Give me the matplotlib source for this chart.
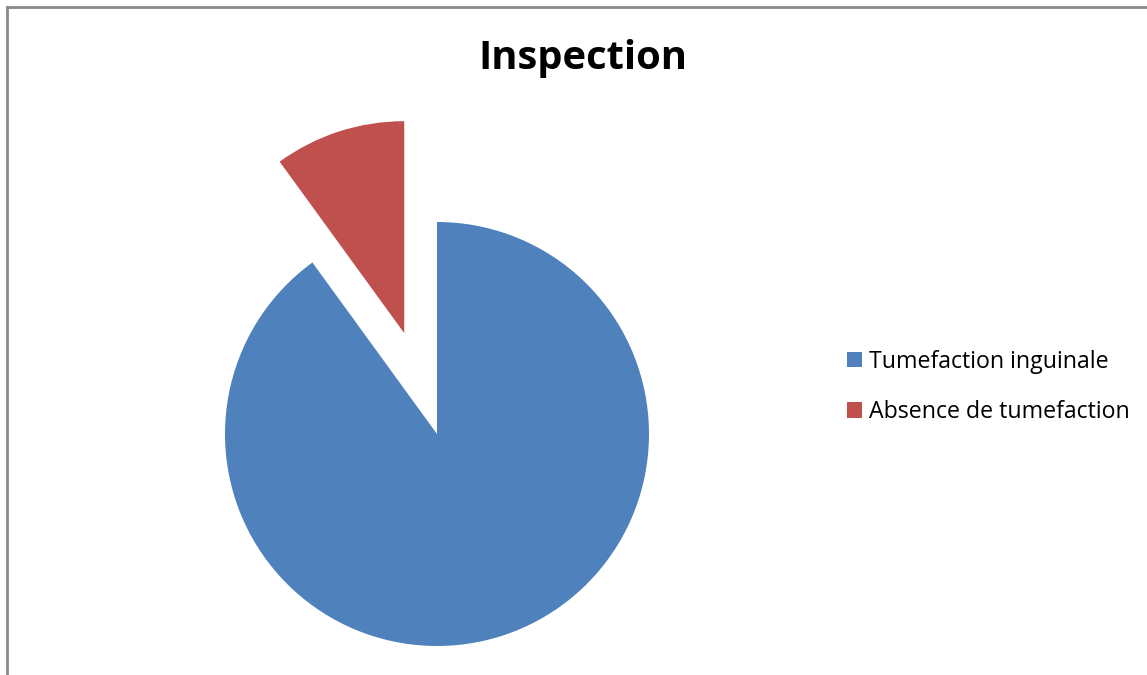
import matplotlib.pyplot as plt
from matplotlib.lines import Line2D

# données du graphique
labels = ['Tumefaction inguinale', 'Absence de tumefaction']
values = [90, 10]
colors = ['#4F81BD', '#C0504D']
explode = [0, 0.5]

W, H = 1147, 675
R = 212  # rayon en pixels
cx, cy = 437, H - 434

fig = plt.figure(figsize=(W / 100, H / 100), dpi=100)

# axe calé pour que rayon 1 = R pixels
ax = fig.add_axes([(cx - 2 * R) / W, (cy - 1.1 * R) / H, 4 * R / W, 2.7 * R / H])
wedges, _ = ax.pie(values, colors=colors, explode=explode, startangle=90,
                   counterclock=False, wedgeprops={'linewidth': 0})
ax.set_xlim(-2, 2)
ax.set_ylim(-1.1, 1.6)
ax.set_aspect('auto')

fig.text(583 / W, 1 - 58 / H, 'Inspection', ha='center', va='center',
         fontsize=28.7, fontweight='bold', family='Open Sans')

leg = fig.legend(wedges, labels, loc='center left',
                 bbox_to_anchor=(847 / W, 1 - 387 / H), frameon=False,
                 borderaxespad=0, borderpad=0,
                 prop={'family': 'Open Sans', 'size': 16.7}, handlelength=0.65,
                 handleheight=0.65, handletextpad=0.3, labelspacing=1.15)

# cadre gris (haut et gauche)
fig.add_artist(Line2D([7 / W, 1.0], [1 - 7 / H, 1 - 7 / H], transform=fig.transFigure,
                      color='#888888', linewidth=2))
fig.add_artist(Line2D([7 / W, 7 / W], [0, 1 - 7 / H], transform=fig.transFigure,
                      color='#888888', linewidth=2))

plt.savefig('out.png', dpi=100)
